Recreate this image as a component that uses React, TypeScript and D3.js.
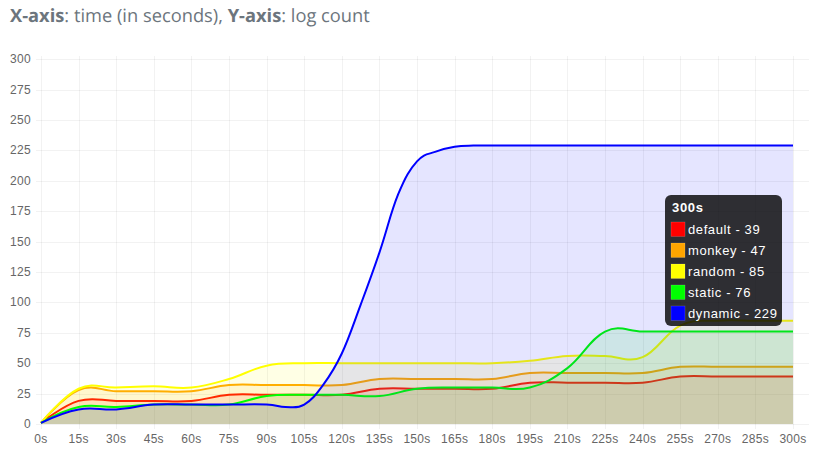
import React from "react";
import * as d3 from "d3";

const times = d3.range(0, 301, 15);
const dynamicTimes = [0, 15, 30, 45, 60, 75, 90, 97.5, 105, 112.5, 120, 127.5, 135, 142.5, 150, 157.5, 165, 172.5, 180, 195, 210, 225, 240, 255, 270, 285, 300];
const yTicks = d3.range(0, 301, 25);
const defaultValues = [1, 19, 19, 19, 19, 24, 24, 24, 24, 29, 29, 29, 29, 34, 34, 34, 34, 39, 39, 39, 39];
const monkeyValues = [1, 28, 27, 27, 27, 32, 32, 32, 32, 37, 37, 37, 37, 42, 42, 42, 42, 47, 47, 47, 47];
const randomValues = [1, 29, 30, 31, 30, 37, 48, 50, 50, 50, 50, 50, 50, 52, 56, 56, 55, 81, 85, 85, 85];
const staticValues = [1, 14, 14, 16, 16, 16, 23, 24, 24, 23, 29, 30, 30, 30, 46, 76, 76, 76, 76, 76, 76];
const dynamicValues = [1, 12, 12, 16, 16, 16, 16, 14, 16, 32, 58, 98, 141, 189, 216, 224, 228, 229, 229, 229, 229, 229, 229, 229, 229, 229, 229];
const seriesNames = ["default", "monkey", "random", "static", "dynamic"];
const seriesColors = ["#ff0000", "#ffa500", "#ffff00", "#00ff00", "#0000ff"];
const seriesValues = [defaultValues, monkeyValues, randomValues, staticValues, dynamicValues];
const seriesTimes = [times, times, times, times, dynamicTimes];

const SANS = "'Liberation Sans', Arial, sans-serif";
const GRID = "rgba(0,0,0,0.05)";

export default function App() {
  const x = d3.scaleLinear().domain([0, 300]).range([41, 793]);
  const y = d3.scaleLinear().domain([0, 300]).range([424, 59.3]);
  const curve = d3.curveCardinal.tension(-0.2);
  const tx = 665, ty = 195, rowStart = 222, rowStep = 21;
  return (
    <svg width={822} height={470} style={{ position: "absolute", left: 0, top: 0, background: "#fff" }}>
      <text x={10} y={22} fontFamily="'Open Sans', sans-serif" fontSize={18.3} textRendering="geometricPrecision" fill="#6c757d">
        <tspan fontWeight={700}>X-axis</tspan>: time (in seconds), <tspan fontWeight={700}>Y-axis</tspan>: log count
      </text>
      {yTicks.map((t) => (
        <g key={t}>
          <line x1={36} x2={809} y1={Math.round(y(t)) + 0.5} y2={Math.round(y(t)) + 0.5} stroke={GRID} />
          <text x={31} y={y(t) + 4} textAnchor="end" fontFamily={SANS} fontSize={12} letterSpacing={0.3} fill="#666">{t}</text>
        </g>
      ))}
      {times.map((t) => (
        <g key={t}>
          <line x1={Math.round(x(t)) + 0.5} x2={Math.round(x(t)) + 0.5} y1={56} y2={429} stroke={GRID} />
          <text x={x(t)} y={443} textAnchor="middle" fontFamily={SANS} fontSize={12} letterSpacing={0.3} fill="#666">{t}s</text>
        </g>
      ))}
      {seriesValues.map((vals, i) => {
        const ts = seriesTimes[i];
        const line = d3.line<number>().x((_, k) => x(ts[k])).y((d) => y(d)).curve(curve);
        const area = d3.area<number>().x((_, k) => x(ts[k])).y0(y(0)).y1((d) => y(d)).curve(curve);
        return (
          <g key={seriesNames[i]}>
            <path d={area(vals) ?? ""} fill={seriesColors[i]} fillOpacity={0.1} />
            <path d={line(vals) ?? ""} fill="none" stroke={seriesColors[i]} strokeWidth={2} />
          </g>
        );
      })}
      <rect x={tx} y={ty} width={117} height={131} rx={6} fill="#000" fillOpacity={0.8} />
      <text x={tx + 7} y={ty + 17} fontFamily={SANS} fontWeight={700} fontSize={13} letterSpacing={0.7} fill="#fff">{times[times.length - 1]}s</text>
      {seriesNames.map((n, i) => (
        <g key={n}>
          <rect x={tx + 6} y={rowStart + i * rowStep} width={14} height={14.5} fill={seriesColors[i]} stroke="rgba(255,255,255,0.3)" strokeWidth={0.5} />
          <text x={tx + 23} y={rowStart + 12 + i * rowStep} fontFamily={SANS} fontSize={13} letterSpacing={0.6} fill="#fff">
            {n} - {seriesValues[i][seriesValues[i].length - 1]}
          </text>
        </g>
      ))}
    </svg>
  );
}
